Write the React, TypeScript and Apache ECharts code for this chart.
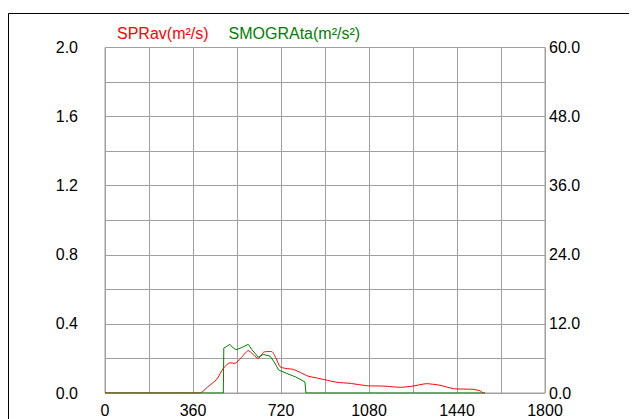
import React, { useEffect, useRef } from "react";
import * as echarts from "echarts";

const seriesNames = ["SPRav(m²/s)", "SMOGRAta(m²/s²)"];
const seriesColors = ["#ff0000", "#008000"];

const redX = [0, 388, 420, 457, 484, 511, 532, 555, 586, 627, 648, 660, 682, 700, 716, 740, 770, 800, 830, 873, 949, 1002, 1072, 1140, 1208, 1260, 1316, 1370, 1426, 1508, 1535, 1548, 1555];
const redY = [0, 0, 0.035, 0.079, 0.143, 0.175, 0.172, 0.2, 0.245, 0.2, 0.235, 0.24, 0.24, 0.2, 0.152, 0.142, 0.137, 0.118, 0.098, 0.085, 0.062, 0.056, 0.042, 0.04, 0.033, 0.04, 0.054, 0.045, 0.025, 0.021, 0.012, 0, 0];

const greenX = [0, 484, 486, 498, 511, 520, 536, 560, 586, 600, 627, 648, 675, 695, 710, 743, 780, 818, 822, 1555];
const greenY = [0, 0, 7.8, 8.1, 8.45, 8.0, 7.5, 7.9, 8.45, 7.6, 6.2, 6.7, 6.4, 5.2, 4.0, 3.4, 2.8, 1.9, 0, 0];

const xMin = 0, xMax = 1800, xStep = 180, xLabelStep = 360;
const leftMin = 0, leftMax = 2.0, leftStep = 0.2, leftLabelStep = 0.4;
const rightMin = 0, rightMax = 60, rightStep = 6, rightLabelStep = 12;

const FONT = "Liberation Sans, Arial, sans-serif";
const FONT_SIZE = 16;
const GRID_COLOR = "#a0a0a0";

function isMultiple(v: number, step: number) {
  const r = v / step;
  return Math.abs(r - Math.round(r)) < 1e-6;
}

export default function App() {
  const ref = useRef<HTMLDivElement>(null);
  useEffect(() => {
    if (!ref.current) return;
    const chart = echarts.init(ref.current, undefined, { renderer: "svg" });
    chart.setOption({
      animation: false,
      backgroundColor: "#ffffff",
      textStyle: { fontFamily: FONT },
      graphic: [
        {
          type: "rect",
          shape: { x: 0.5, y: 5.5, width: 1000, height: 1000 },
          style: { fill: "none", stroke: "#000", lineWidth: 1 },
          silent: true,
        },
      ],
      legend: {
        left: 104,
        top: 17,
        padding: 0,
        itemWidth: 0,
        itemHeight: 14,
        itemGap: 15,
        icon: "rect",
        data: seriesNames.map((n, i) => ({ name: n, textStyle: { color: seriesColors[i] } })),
        textStyle: { fontSize: FONT_SIZE, fontFamily: FONT },
      },
      grid: {
        left: 97,
        top: 39.5,
        right: 92,
        bottom: 26,
        show: true,
        borderColor: GRID_COLOR,
        borderWidth: 1,
        backgroundColor: "transparent",
      },
      xAxis: {
        type: "value",
        min: xMin,
        max: xMax,
        interval: xStep,
        axisLine: { show: false },
        axisTick: { show: false },
        splitLine: { show: true, lineStyle: { color: GRID_COLOR, width: 1 } },
        axisLabel: {
          margin: 9,
          color: "#000",
          fontSize: FONT_SIZE,
          fontFamily: FONT,
          formatter: (v: number) => (isMultiple(v, xLabelStep) ? String(v) : ""),
        },
      },
      yAxis: [
        {
          type: "value",
          min: leftMin,
          max: leftMax,
          interval: leftStep,
          axisLine: { show: false },
          axisTick: { show: false },
          splitLine: { show: true, lineStyle: { color: GRID_COLOR, width: 1 } },
          axisLabel: {
            margin: 27,
            color: "#000",
            fontSize: FONT_SIZE,
            fontFamily: FONT,
            formatter: (v: number) => (isMultiple(v, leftLabelStep) ? v.toFixed(1) : ""),
          },
        },
        {
          type: "value",
          min: rightMin,
          max: rightMax,
          interval: rightStep,
          position: "right",
          axisLine: { show: false },
          axisTick: { show: false },
          splitLine: { show: false },
          axisLabel: {
            margin: 4,
            color: "#000",
            fontSize: FONT_SIZE,
            fontFamily: FONT,
            formatter: (v: number) => (isMultiple(v, rightLabelStep) ? v.toFixed(1) : ""),
          },
        },
      ],
      series: [
        {
          name: seriesNames[1],
          type: "line",
          yAxisIndex: 1,
          showSymbol: false,
          symbol: "none",
          lineStyle: { color: seriesColors[1], width: 1 },
          itemStyle: { color: seriesColors[1] },
          data: greenX.map((x, i) => [x, greenY[i]]),
          z: 3,
        },
        {
          name: seriesNames[0],
          type: "line",
          yAxisIndex: 0,
          showSymbol: false,
          symbol: "none",
          smooth: 0.2,
          lineStyle: { color: seriesColors[0], width: 1 },
          itemStyle: { color: seriesColors[0] },
          data: redX.map((x, i) => [x, redY[i]]),
          z: 2,
        },
      ],
    });
    return () => chart.dispose();
  }, []);
  return <div ref={ref} style={{ width: 629, height: 411 }} />;
}
